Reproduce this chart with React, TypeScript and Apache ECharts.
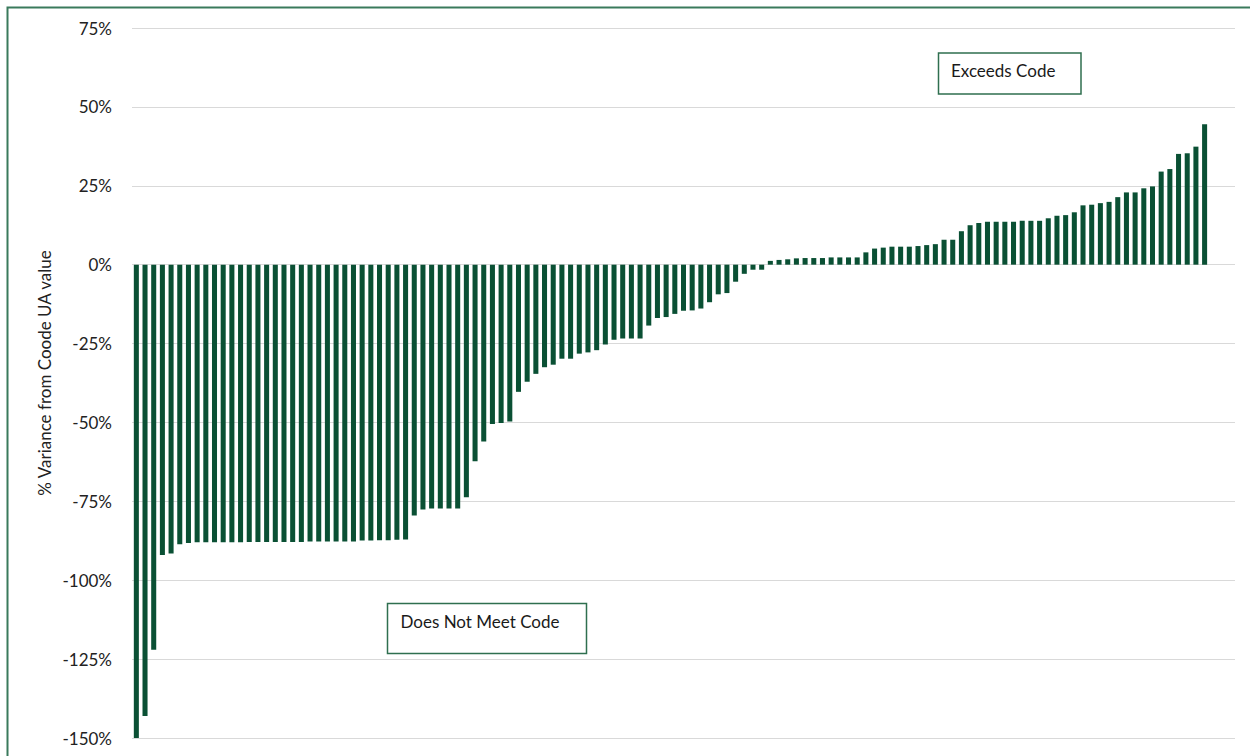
import React, { useEffect, useRef } from "react";
import * as echarts from "echarts";

// % variance from code UA value, one bar per project, sorted ascending
const variance: number[] = [
  -150, -143, -122, -92, -91.5, -88.6, -88.2,
  -88.0, -88.0, -88.0, -88.0, -88.0, -88.0,
  -87.9, -87.9, -87.9, -87.9, -87.9, -87.9, -87.9,
  -87.7, -87.7, -87.7, -87.7, -87.7, -87.7,
  -87.4, -87.4, -87.3, -87.3, -87.2, -87.1,
  -79.5, -77.6, -77.3, -77.3, -77.3, -77.3, -73.7, -62.3, -56.0,
  -50.5, -50.2, -49.7, -40.3, -37.1, -34.6, -32.5, -31.7, -29.8, -29.8,
  -28.2, -27.8, -27.1, -25.3, -23.8, -23.4, -23.4, -23.4, -19.3, -16.9,
  -16.6, -15.6, -14.6, -14.5, -13.9, -11.9, -9.4, -9.0, -5.4, -2.9,
  -1.6, -1.6,
  1.2, 1.5, 1.7, 2.0, 2.1, 2.1, 2.1, 2.3, 2.3, 2.3, 2.3, 3.9,
  5.1, 5.4, 5.7, 5.7, 5.7, 5.9, 6.2, 6.5, 7.9, 7.9,
  10.6, 12.5, 13.2, 13.6, 13.6, 13.6, 13.6, 13.9, 13.9, 13.9,
  14.7, 15.5, 15.7, 16.6, 18.8, 19.0, 19.5, 19.9, 21.4, 22.9,
  22.9, 24.2, 24.8, 29.5, 30.3, 35.1, 35.3, 37.4, 44.5,
];

// the category axis keeps a few empty slots after the last bar
const emptySlots = 3;
const categories: string[] = Array.from(
  { length: variance.length + emptySlots },
  (_, i) => String(i + 1)
);

const yAxisTitle = "% Variance from Coode UA value";
const exceedsLabel = "Exceeds Code";
const notMeetLabel = "Does Not Meet Code";

const FONT = "Lato, 'Open Sans', sans-serif";
const GREEN = "#0a5034";
const FRAME = "#3a7a5c";

export default function App() {
  const ref = useRef<HTMLDivElement>(null);

  useEffect(() => {
    if (!ref.current) return;
    const chart = echarts.init(ref.current, undefined, { renderer: "svg" });
    const seriesData: (number | null)[] = [
      ...variance,
      ...Array(emptySlots).fill(null),
    ];
    chart.setOption({
      animation: false,
      backgroundColor: "#ffffff",
      grid: { left: 132, right: 15, top: 28, bottom: 18, containLabel: false },
      xAxis: {
        type: "category",
        data: categories,
        axisLine: { show: false },
        axisTick: { show: false },
        axisLabel: { show: false },
        splitLine: { show: false },
      },
      yAxis: {
        type: "value",
        min: -150,
        max: 75,
        interval: 25,
        axisLine: { show: false },
        axisTick: { show: false },
        axisLabel: {
          formatter: (v: number) => `${v}%`,
          fontFamily: FONT,
          fontSize: 17,
          color: "#222222",
          margin: 20,
        },
        splitLine: { lineStyle: { color: "#d9d9d9", width: 1 } },
      },
      series: [
        {
          type: "bar",
          data: seriesData,
          barCategoryGap: "42%",
          itemStyle: { color: GREEN },
        },
      ],
      graphic: [
        {
          type: "polyline",
          shape: { points: [[7.5, 756], [7.5, 7.5], [1250, 7.5]] },
          style: { stroke: FRAME, lineWidth: 2, fill: null },
          z: 100,
        },
        {
          type: "text",
          x: 44,
          y: 373,
          rotation: Math.PI / 2,
          style: {
            text: yAxisTitle,
            font: `17px ${FONT}`,
            fill: "#222222",
            textAlign: "center",
            textVerticalAlign: "middle",
          },
        },
        {
          type: "rect",
          shape: { x: 938.5, y: 53, width: 142.5, height: 41 },
          style: { fill: "#ffffff", stroke: "#2f6f4f", lineWidth: 1.5 },
          z: 50,
        },
        {
          type: "text",
          x: 951,
          y: 70.5,
          style: {
            text: exceedsLabel,
            font: `17px ${FONT}`,
            fill: "#1a1a1a",
            textAlign: "left",
            textVerticalAlign: "middle",
          },
          z: 51,
        },
        {
          type: "rect",
          shape: { x: 387.5, y: 603.5, width: 199, height: 50 },
          style: { fill: "#ffffff", stroke: "#2f6f4f", lineWidth: 1.5 },
          z: 50,
        },
        {
          type: "text",
          x: 400.5,
          y: 621,
          style: {
            text: notMeetLabel,
            font: `17px ${FONT}`,
            fill: "#1a1a1a",
            textAlign: "left",
            textVerticalAlign: "middle",
          },
          z: 51,
        },
      ],
    });
    return () => chart.dispose();
  }, []);

  return (
    <div
      ref={ref}
      style={{
        position: "fixed",
        left: 0,
        top: 0,
        width: 1250,
        height: 756,
        background: "#ffffff",
      }}
    />
  );
}
